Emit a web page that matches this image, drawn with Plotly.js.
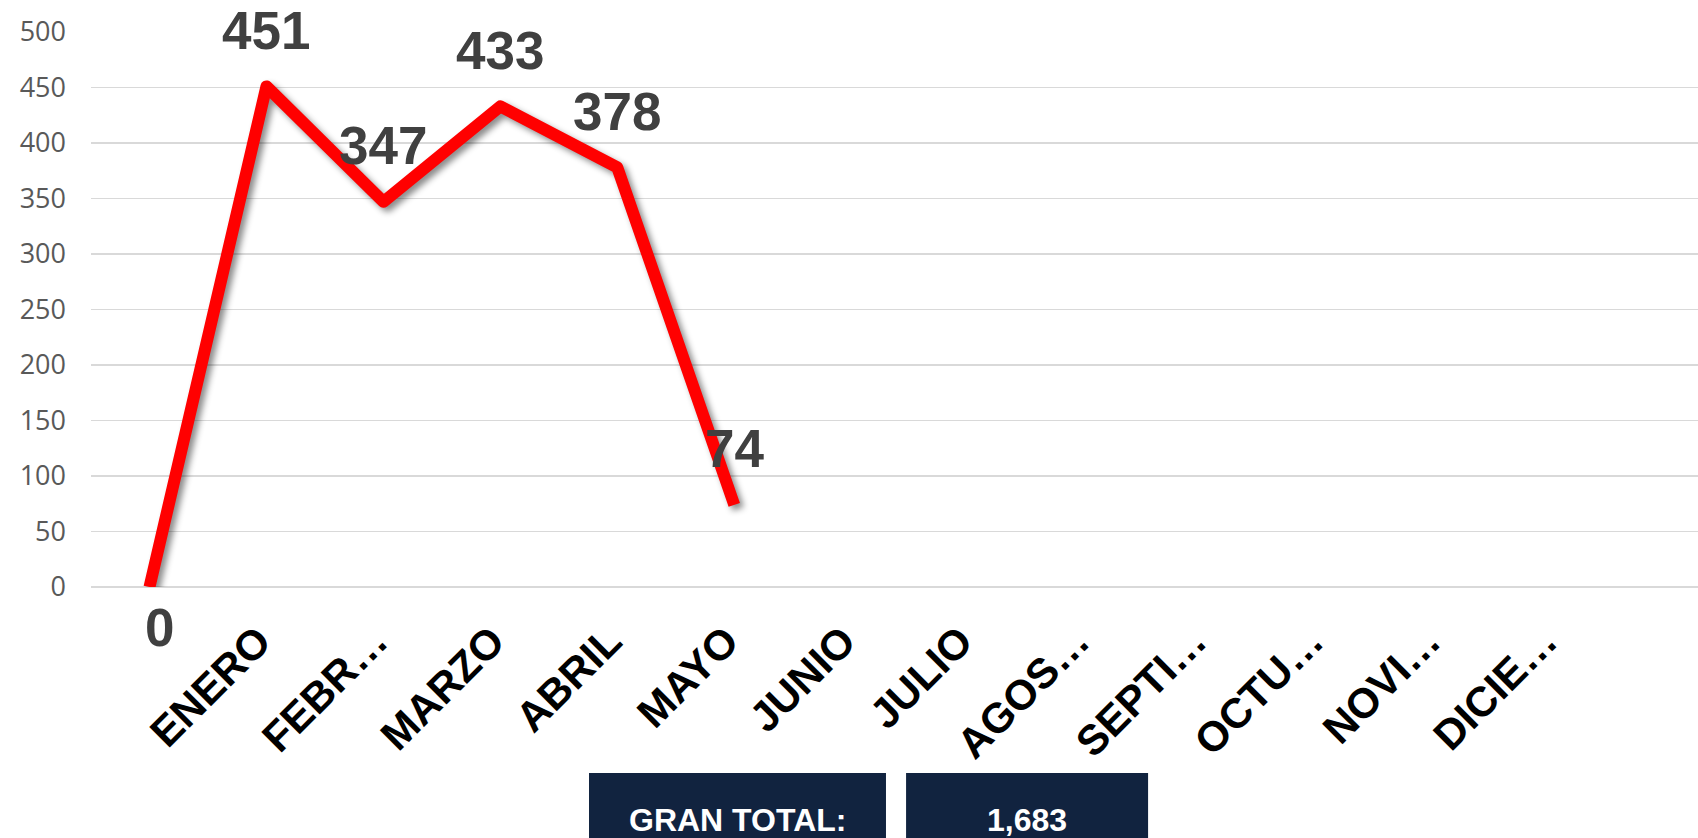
<!DOCTYPE html>
<html>
<head>
<meta charset="utf-8">
<script src="https://cdn.plot.ly/plotly-3.0.1.min.js"></script>
<style>
  html, body { margin: 0; padding: 0; background: #ffffff; }
  #chart { width: 1698px; height: 838px; }
  .scatterlayer .js-line {
    filter: drop-shadow(4px 4px 3px rgba(0,0,0,0.45));
    stroke-linejoin: round;
  }
</style>
</head>
<body>
<div id="chart"></div>
<script>
// ---- data ----
const categories = [" ", "ENERO", "FEBR…", "MARZO", "ABRIL", "MAYO", "JUNIO", "JULIO", "AGOS…", "SEPTI…", "OCTU…", "NOVI…", "DICIE…"];
const lineCategories = [" ", "ENERO", "FEBR…", "MARZO", "ABRIL", "MAYO"];
const values = [0, 451, 347, 433, 378, 74];
const yTicks = [0, 50, 100, 150, 200, 250, 300, 350, 400, 450, 500];
const totalLabel = "GRAN TOTAL:";
const totalValue = "1,683";

// ---- chart ----
const trace = {
  type: "scatter",
  mode: "lines",
  x: lineCategories,
  y: values,
  line: { color: "#FF0000", width: 12 },
  hoverinfo: "skip",
  showlegend: false
};

const labelAnnotations = values.map((v, i) => ({
  x: lineCategories[i],
  y: v,
  xref: "x",
  yref: "y",
  text: String(v),
  showarrow: false,
  xanchor: "center",
  yanchor: "middle",
  yshift: v > 0 ? 56 : -40,
  xshift: v > 0 ? 0 : 10,
  font: { family: "Liberation Sans, Arial, sans-serif", size: 53, color: "#404040", weight: "bold" }
}));

const boxFont = { family: "Liberation Sans, Arial, sans-serif", size: 32, color: "#ffffff", weight: "bold" };

const layout = {
  width: 1698,
  height: 838,
  autosize: false,
  margin: { l: 91, r: 0, t: 32, b: 251, pad: 0 },
  paper_bgcolor: "#ffffff",
  plot_bgcolor: "#ffffff",
  showlegend: false,
  xaxis: {
    type: "category",
    categoryorder: "array",
    categoryarray: categories,
    tickvals: categories,
    ticktext: categories,
    range: [-0.5, 13.24],
    showgrid: false,
    zeroline: false,
    showline: false,
    ticks: "",
    tickangle: -45,
    ticklabelstandoff: 20,
    ticklabelshift: -8,
    tickfont: { family: "Liberation Sans, Arial, sans-serif", size: 42, color: "#000000", weight: "bold" },
    fixedrange: true
  },
  yaxis: {
    range: [0, 500],
    tickvals: yTicks,
    ticktext: yTicks.map(String),
    showgrid: true,
    gridcolor: "#D9D9D9",
    gridwidth: 1.5,
    zeroline: true,
    zerolinecolor: "#D9D9D9",
    zerolinewidth: 2,
    showline: false,
    ticks: "",
    ticklabelstandoff: 24,
    tickfont: { family: "Open Sans, Noto Sans, sans-serif", size: 27, color: "#595959" },
    fixedrange: true
  },
  shapes: [
    { type: "rect", xref: "paper", yref: "paper", x0: 0.3099, x1: 0.4947, y0: -0.50, y1: -0.3351, fillcolor: "#11233F", line: { width: 0 }, layer: "above" },
    { type: "rect", xref: "paper", yref: "paper", x0: 0.5072, x1: 0.6578, y0: -0.50, y1: -0.3351, fillcolor: "#11233F", line: { width: 0 }, layer: "above" }
  ],
  annotations: labelAnnotations.concat([
    { xref: "paper", yref: "paper", x: (0.3099 + 0.4947) / 2, y: -0.419, text: totalLabel, showarrow: false, xanchor: "center", yanchor: "middle", font: boxFont },
    { xref: "paper", yref: "paper", x: (0.5072 + 0.6578) / 2, y: -0.419, text: totalValue, showarrow: false, xanchor: "center", yanchor: "middle", font: boxFont }
  ])
};

Plotly.newPlot("chart", [trace], layout, { displayModeBar: false, staticPlot: true });
</script>
</body>
</html>
